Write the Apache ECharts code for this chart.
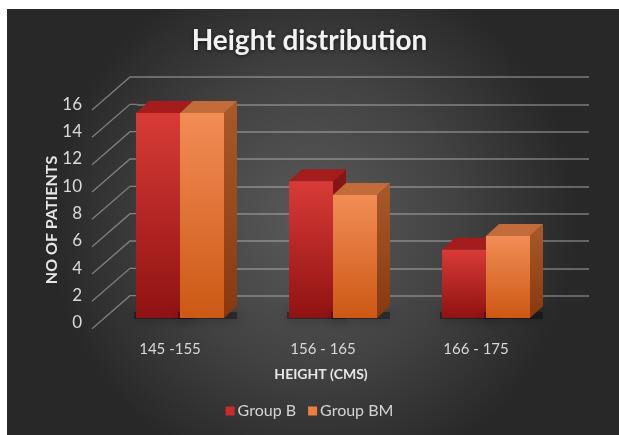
<!DOCTYPE html>
<html>
<head>
<meta charset="utf-8">
<script src="https://cdn.jsdelivr.net/npm/echarts@6/dist/echarts.min.js"></script>
<style>html,body{margin:0;padding:0;background:#fff;}#c{width:619px;height:435px;}</style>
</head>
<body>
<div id="c"></div>
<script>
const categories = ['145 -155', '156 - 165', '166 - 175'];
const groupB = [15, 10, 5];
const groupBM = [15, 9, 6];
const gridTicks = [2, 4, 6, 8, 10, 12, 14, 16, 18];

const chart = echarts.init(document.getElementById('c'));
const DX = 13, DY = -12, BW = 44;

function barRender(seriesIdx, faces) {
  return function (params, api) {
    const idx = api.value(0), v = api.value(1);
    const top = api.coord([idx, v]);
    const base = api.coord([idx, 0]);
    const x0 = seriesIdx === 0 ? top[0] - BW : top[0];
    const x1 = x0 + BW;
    const ty = top[1], by = base[1];
    return {
      type: 'group',
      children: [
        { type: 'rect', shape: { x: x0 - 2, y: by - 6, width: BW + DX + 2, height: 7 },
          style: { fill: 'rgba(0,0,0,0.35)', shadowBlur: 12, shadowColor: 'rgba(0,0,0,0.85)', shadowOffsetY: 1 } },
        { type: 'polygon', shape: { points: [[x1, ty], [x1 + DX, ty + DY], [x1 + DX, by + DY], [x1, by]] },
          style: { fill: faces.side } },
        { type: 'polygon', shape: { points: [[x0, ty], [x0 + DX, ty + DY], [x1 + DX, ty + DY], [x1, ty]] },
          style: { fill: faces.top } },
        { type: 'rect', shape: { x: x0, y: ty, width: BW, height: by - ty },
          style: { fill: faces.front } }
      ]
    };
  };
}

const lg = (a, b) => new echarts.graphic.LinearGradient(0, 0, 0, 1, [{ offset: 0, color: a }, { offset: 1, color: b }]);
const facesB = { front: lg('#d83b37', '#8f1212'), top: '#a41c1c', side: lg('#8a1616', '#6a0c0c') };
const facesBM = { front: lg('#f28d56', '#cc5814'), top: '#c26b3b', side: lg('#a95a2a', '#873810') };

const option = {
  backgroundColor: '#ffffff',
  animation: false,
  graphic: [{
    type: 'rect', left: 7, top: 9, z: -10,
    shape: { width: 612, height: 426 },
    style: { fill: new echarts.graphic.RadialGradient(0.5, 0.5, 0.62, [
      { offset: 0, color: '#5a5a5a' }, { offset: 0.55, color: '#424242' }, { offset: 1, color: '#282828' }]) }
  }],
  title: {
    text: 'Height distribution', left: 'center', top: 22,
    textStyle: { color: '#f2f2f2', fontFamily: 'Lato', fontWeight: 'bold', fontSize: 28,
      textShadowColor: 'rgba(0,0,0,0.6)', textShadowBlur: 4, textShadowOffsetY: 1 }
  },
  legend: {
    bottom: 11, left: 'center', icon: 'rect', itemWidth: 9, itemHeight: 9, itemGap: 12,
    textStyle: { color: '#d4d4d4', fontFamily: 'Lato', fontSize: 16, padding: [0, 0, 0, -2] },
    data: ['Group B', 'Group BM']
  },
  grid: [
    { left: 137, right: 30, top: 77, bottom: 112 },
    { left: 103.5, right: 56.5, top: 72, bottom: 117 }
  ],
  xAxis: [
    { gridIndex: 0, type: 'category', data: categories, show: false },
    { gridIndex: 1, type: 'category', data: categories,
      axisLine: { show: false }, axisTick: { show: false },
      axisLabel: { color: '#d9d9d9', fontFamily: 'Lato', fontSize: 15, margin: 24, padding: [0, 20, 0, 0] },
      name: 'HEIGHT (CMS)', nameLocation: 'middle', nameGap: 49,
      nameTextStyle: { color: '#e6e6e6', fontFamily: 'Lato', fontWeight: 'bold', fontSize: 14, padding: [0, 24, 0, 0] } },
  ],
  yAxis: [
    { gridIndex: 0, type: 'value', min: 0, max: 18, interval: 2,
      axisLine: { show: false }, axisTick: { show: false },
      splitLine: { show: true, showMinLine: false, lineStyle: { color: 'rgba(190,190,190,0.55)', width: 1.5 } },
      axisLabel: { color: '#dadada', fontFamily: 'Lato', fontSize: 17, margin: 55, showMaxLabel: false, padding: [14, 0, 0, 0] },
      name: 'NO OF PATIENTS', nameLocation: 'middle', nameGap: 77, nameRotate: 90, nameMoveOverlap: false,
      nameTextStyle: { color: '#e6e6e6', fontFamily: 'Lato', fontWeight: 'bold', fontSize: 16, padding: [0, 40, 0, 0] } },
    { gridIndex: 1, type: 'value', min: 0, max: 18, interval: 2, show: false }
  ],
  series: [
    { type: 'custom', name: 'diag', xAxisIndex: 0, yAxisIndex: 0, silent: true,
      data: gridTicks.map(v => [0, v]),
      renderItem: function (params, api) {
        const p = api.coord([0, api.value(1)]);
        const lx = params.coordSys.x;
        return { type: 'polyline', shape: { points: [[lx - 45, p[1] + 33], [lx - 7, p[1]], [lx, p[1]]] },
          style: { stroke: 'rgba(190,190,190,0.55)', lineWidth: 1.3, fill: null } };
      } },
    { type: 'custom', name: 'Group B', xAxisIndex: 1, yAxisIndex: 1, itemStyle: { color: '#cc2b2b' },
      data: groupB.map((v, i) => [i, v]), renderItem: barRender(0, facesB) },
    { type: 'custom', name: 'Group BM', xAxisIndex: 1, yAxisIndex: 1, itemStyle: { color: '#ef7d3f' },
      data: groupBM.map((v, i) => [i, v]), renderItem: barRender(1, facesBM) }
  ]
};
chart.setOption(option);
</script>
</body>
</html>
